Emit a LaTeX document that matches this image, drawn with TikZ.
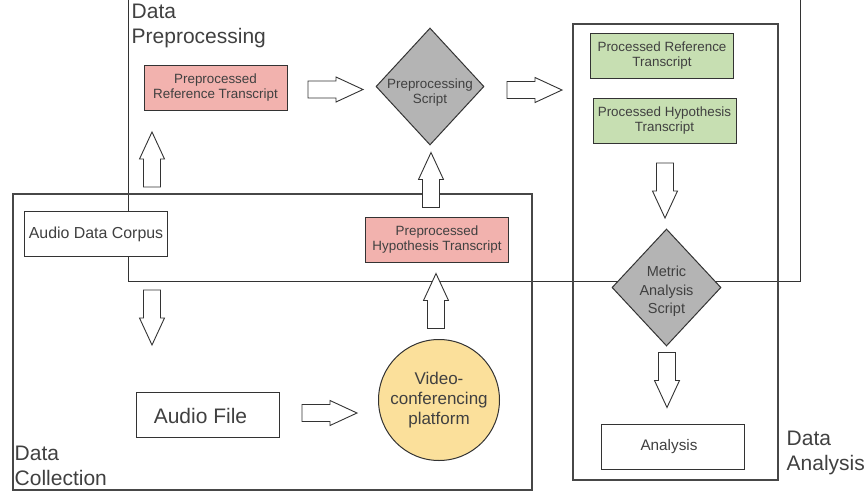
\documentclass[tikz,border=0pt]{standalone}
\usepackage{fontspec}
\setmainfont{Liberation Sans}
\usetikzlibrary{shapes.geometric}
\definecolor{pinkfill}{HTML}{F2B2AE}
\definecolor{greenfill}{HTML}{C7DFB2}
\definecolor{grayfill}{HTML}{B4B4B4}
\definecolor{yellowfill}{HTML}{FBE09B}
\definecolor{linecol}{HTML}{333333}
\definecolor{boxcol}{HTML}{474747}
\definecolor{txt}{HTML}{404040}
\newcommand{\hollowarrow}[3]{\draw[arrowline,shift={(#1,#2)},rotate=#3] (-27.5,-8.5) -- (0.5,-8.5) -- (0.5,-12.5) -- (27.5,0) -- (0.5,12.5) -- (0.5,8.5) -- (-27.5,8.5) -- cycle;}
\tikzset{
  thinline/.style={draw=linecol, line width=0.9pt},
  thickline/.style={draw=boxcol, line width=2.2pt},
  arrowline/.style={draw=linecol, line width=0.9pt, fill=white},
  smallfont/.style={font=\fontsize{13.4}{15}\selectfont},
  rectnode/.style={draw=linecol, line width=1pt, inner sep=0pt, align=center, text=txt},
  pinkbox/.style={rectnode, fill=pinkfill, minimum width=143pt, minimum height=45pt, smallfont},
  greenbox/.style={rectnode, fill=greenfill, minimum width=143pt, minimum height=45pt, smallfont},
  whitebox/.style={rectnode, fill=white, minimum width=143pt, minimum height=45pt},
  diam/.style={diamond, draw=linecol, line width=1pt, fill=grayfill, inner sep=0pt},
  region/.style={anchor=north west, inner sep=0pt, align=left, text=txt, font=\fontsize{21}{25}\selectfont}
}
\begin{document}
\begin{tikzpicture}[x=1pt,y=-1pt]
\useasboundingbox (0,0) rectangle (868,493);
% region outlines
\draw[thinline] (128,-2) -- (128,281) -- (800,281) -- (800,-2);
\draw[thickline] (13,194) rectangle (532,490);
\draw[thickline] (573,24) rectangle (778,480);
% region labels
\node[region] (lpre) at (131.5,4) {Data\\Preprocessing};
\node[region] (lcol) at (14.5,446) {Data\\Collection};
\node[region] (lana) at (786.5,431) {Data\\Analysis};
% nodes
\node[pinkbox] (refpre) at (215.5,87.5) {Preprocessed\\Reference Transcript};
\node[pinkbox] (hyppre) at (437,240) {Preprocessed\\Hypothesis Transcript};
\node[diam, minimum width=108pt, minimum height=117pt,
  label={[smallfont, text=txt, align=center, yshift=-6pt]center:Preprocessing\\Script}] (pscript) at (430,86.5) {};
\node[greenbox] (refproc) at (662,55.5) {Processed Reference\\Transcript};
\node[greenbox] (hypproc) at (664.5,120.5) {Processed Hypothesis\\Transcript};
\node[diam, minimum width=109pt, minimum height=117pt,
  label={[font=\fontsize{14.5}{18.5}\selectfont, text=txt, align=center, yshift=-4pt]center:Metric\\Analysis\\Script}] (mscript) at (666.5,287.5) {};
\node[whitebox, label={[font=\fontsize{15.3}{18}\selectfont, text=txt, xshift=-4pt]center:Analysis}] (analysis) at (673,447) {};
\node[whitebox, font=\fontsize{15.9}{18}\selectfont] (corpus) at (96,234) {Audio Data Corpus};
\node[whitebox, label={[font=\fontsize{21}{24}\selectfont, text=txt, xshift=-7pt, yshift=-1pt]center:Audio File}] (afile) at (207.5,414.5) {};
\node[circle, draw=linecol, line width=1pt, fill=yellowfill, minimum size=121pt, inner sep=0pt,
  align=center, text=txt, font=\fontsize{17}{20}\selectfont] (vcp) at (439,400) {Video-\\conferencing\\platform};
% hollow block arrows
\hollowarrow{152}{159.5}{90}
\hollowarrow{335.5}{89.5}{0}
\hollowarrow{534.5}{90}{0}
\hollowarrow{431}{180}{90}
\hollowarrow{665}{190.5}{-90}
\hollowarrow{667}{380}{-90}
\hollowarrow{152}{317.5}{-90}
\hollowarrow{329.5}{413}{0}
\hollowarrow{436}{301}{90}
\end{tikzpicture}
\end{document}
